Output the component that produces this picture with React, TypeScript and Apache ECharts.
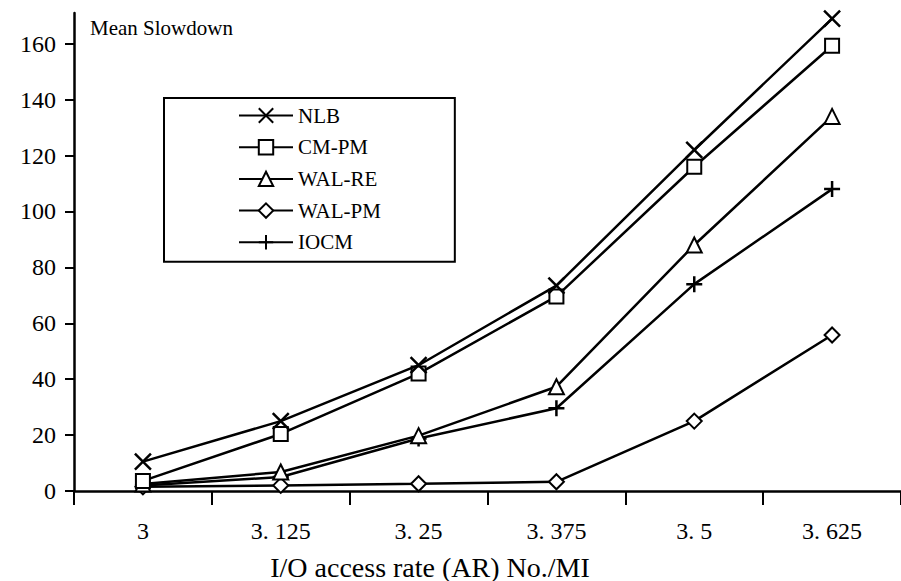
import React, { useEffect, useRef } from "react";
import * as echarts from "echarts";

const categories = ["3", "3.125", "3.25", "3.375", "3.5", "3.625"];
const yTicks = [0, 20, 40, 60, 80, 100, 120, 140, 160];

const nlb = [10.5, 25, 45, 73.5, 122, 169];
const cmpm = [3.6, 20.4, 42, 69.6, 116, 159.3];
const walre = [2.5, 6.8, 19.8, 37.3, 88, 134];
const walpm = [1.5, 2.0, 2.6, 3.3, 25, 55.8];
const iocm = [2.0, 5.0, 18.8, 29.6, 74, 108];

const seriesNames = ["NLB", "CM-PM", "WAL-RE", "WAL-PM", "IOCM"];
const seriesData = [nlb, cmpm, walre, walpm, iocm];
const seriesSymbols = [
  "path://M0,0L10,10M10,0L0,10",
  "emptyRect",
  "emptyTriangle",
  "emptyDiamond",
  "path://M5,0L5,10M0,5L10,5",
];
const symbolSizes = [16, 14, 15, 15, 16];

const SERIF = "'Liberation Serif', 'Times New Roman', serif";

export default function App() {
  const ref = useRef<HTMLDivElement>(null);
  useEffect(() => {
    if (!ref.current) return;
    const chart = echarts.init(ref.current, null, { renderer: "svg" });
    chart.setOption({
      animation: false,
      backgroundColor: "#fff",
      grid: { left: 74, top: 13, width: 830, height: 478 },
      xAxis: {
        type: "category",
        data: categories,
        boundaryGap: true,
        axisLine: { lineStyle: { color: "#000", width: 2.5 } },
        axisTick: { show: true, length: 14, lineStyle: { color: "#000", width: 2 } },
        axisLabel: {
          interval: 0,
          margin: 28,
          color: "#000",
          fontFamily: SERIF,
          fontSize: 24,
          formatter: (v: string) => v.replace(".", ". "),
        },
        splitLine: { show: false },
      },
      yAxis: {
        type: "value",
        min: 0,
        max: 171,
        axisLine: { show: true, lineStyle: { color: "#000", width: 2.5 } },
        axisTick: {
          show: true,
          length: 9,
          customValues: yTicks,
          lineStyle: { color: "#000", width: 2 },
        },
        axisLabel: {
          customValues: yTicks,
          margin: 18,
          color: "#000",
          fontFamily: SERIF,
          fontSize: 24,
        },
        splitLine: { show: false },
      },
      legend: {
        orient: "vertical",
        left: 164,
        top: 98,
        data: seriesNames,
        borderColor: "#000",
        borderWidth: 2,
        padding: [7, 74, 9, 74],
        itemWidth: 54,
        itemHeight: 18,
        itemGap: 10.7,
        textStyle: { fontFamily: SERIF, fontSize: 21, color: "#000", lineHeight: 20 },
      },
      graphic: [
        {
          type: "text",
          left: 90,
          top: 17,
          style: {
            text: "Mean Slowdown",
            fontFamily: SERIF,
            fontSize: 21,
            fill: "#000",
          },
        },
        {
          type: "text",
          x: 430,
          y: 581,
          style: {
            text: "I/O access rate (AR) No./MI",
            fontFamily: SERIF,
            fontSize: 28,
            fill: "#000",
            align: "center",
            verticalAlign: "bottom",
          },
        },
      ],
      series: seriesNames.map((name, i) => ({
        name,
        type: "line",
        data: seriesData[i],
        symbol: seriesSymbols[i],
        symbolSize: symbolSizes[i],
        showAllSymbol: true,
        color: "#000",
        lineStyle: { color: "#000", width: 2.5 },
        itemStyle: { color: "#000", borderColor: "#000", borderWidth: 2.5 },
        emphasis: { disabled: true },
        z: 10 - i,
      })),
    });
    return () => chart.dispose();
  }, []);
  return (
    <div
      ref={ref}
      style={{ position: "absolute", left: 0, top: 0, width: 901, height: 581 }}
    />
  );
}
